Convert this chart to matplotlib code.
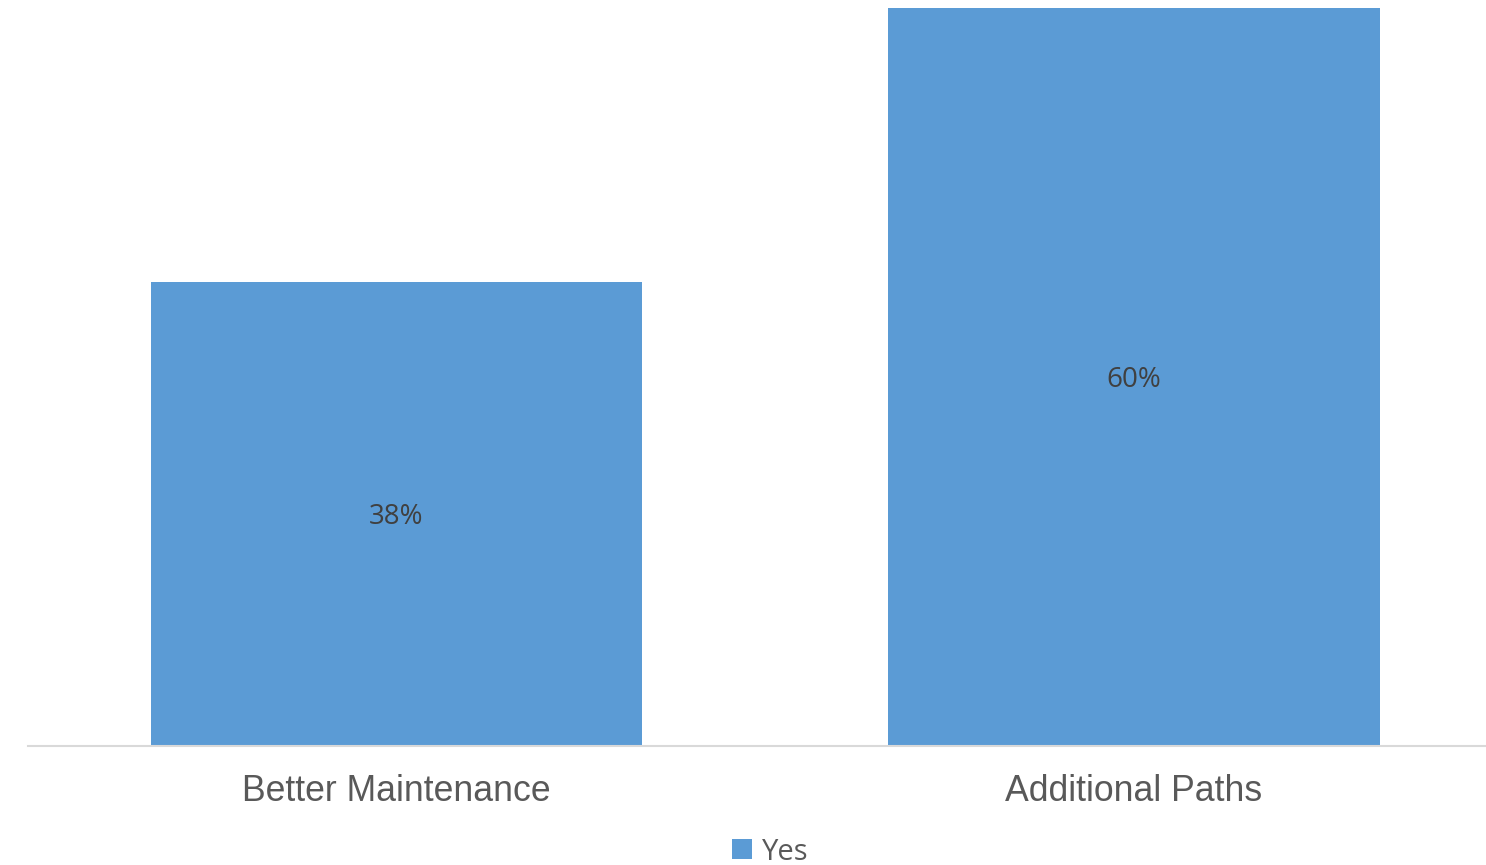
import matplotlib
matplotlib.use("Agg")
import matplotlib.pyplot as plt
from matplotlib.patches import Patch
import matplotlib.transforms as mtransforms

categories = ["Better Maintenance", "Additional Paths"]
values = [0.377, 0.60]
series_name = "Yes"
bar_color = "#5B9BD5"

W, H = 1486, 865
fig = plt.figure(figsize=(W / 100, H / 100), dpi=100)
# axes in pixel coords: left 28, right 1486, bottom 746, top 8
ax = fig.add_axes([28 / W, 1 - 746 / H, (1486 - 28) / W, (746 - 8) / H])

x = list(range(len(categories)))
bars = ax.bar(x, values, width=0.666, color=bar_color, label=series_name, zorder=2)
ax.set_ylim(0, 0.60)
ax.set_xlim(-(396.5 - 28) / 737.5, (1486 - 396.5) / 737.5)

shift = mtransforms.ScaledTranslation(0, -3 / 100, fig.dpi_scale_trans)
for b, v in zip(bars, values):
    ax.text(b.get_x() + b.get_width() / 2, v / 2, f"{round(v * 100):.0f}%",
            ha="center", va="center", fontsize=20, color="#404040",
            family="Open Sans", transform=ax.transData + shift)

for s in ["top", "right", "left"]:
    ax.spines[s].set_visible(False)
ax.spines["bottom"].set_color("#d9d9d9")
ax.spines["bottom"].set_linewidth(1.5)
ax.set_yticks([])
ax.set_xticks(x)
ax.set_xticklabels(categories, fontsize=25.7, color="#595959", family="Liberation Sans")
ax.tick_params(axis="x", length=0, pad=20)

handles = [Patch(facecolor=bar_color, label=series_name)]
fig.legend(handles=handles, loc="center", bbox_to_anchor=(770 / W, 1 - 852 / H),
           frameon=False, prop={"family": "Open Sans", "size": 21},
           labelcolor="#595959", handlelength=0.68, handleheight=0.68,
           handletextpad=0.35)

fig.savefig("out.png", dpi=100)
